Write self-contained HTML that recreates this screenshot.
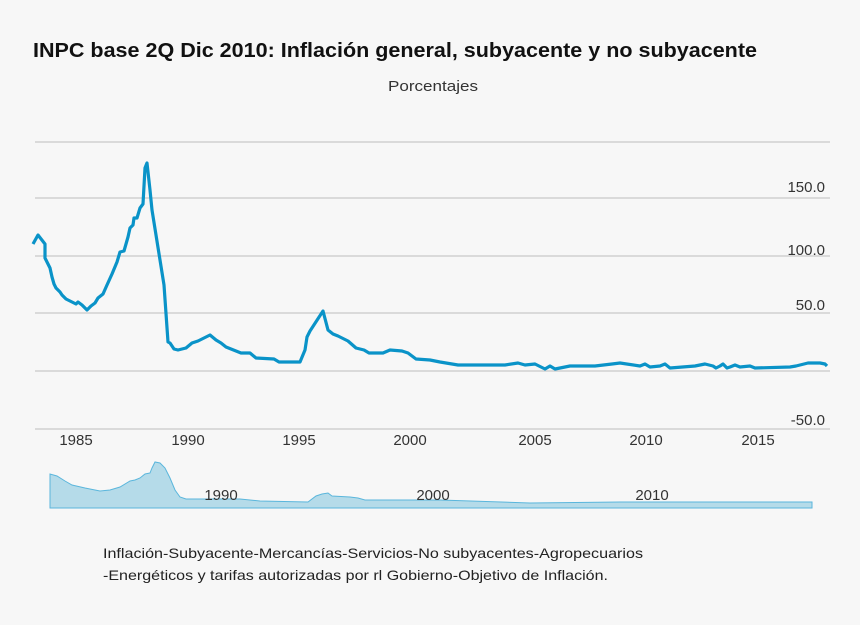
<!DOCTYPE html>
<html><head><meta charset="utf-8"><style>
body{margin:0;background:#f7f7f7;width:860px;height:625px;overflow:hidden;font-family:"Liberation Sans",sans-serif;}
</style></head><body>
<svg width="860" height="625" xmlns="http://www.w3.org/2000/svg" style="position:absolute;left:0;top:0">
<rect width="860" height="625" fill="#f7f7f7"/>
<text x="33" y="57" font-size="20" font-weight="bold" fill="#111" textLength="724" lengthAdjust="spacingAndGlyphs">INPC base 2Q Dic 2010: Inflación general, subyacente y no subyacente</text>
<text x="388" y="91" font-size="15" fill="#333" textLength="90" lengthAdjust="spacingAndGlyphs">Porcentajes</text>
<g stroke="#c8c8c8" stroke-width="1.3">
<line x1="35" x2="830" y1="142" y2="142"/><line x1="35" x2="830" y1="198" y2="198"/>
<line x1="35" x2="830" y1="256" y2="256"/><line x1="35" x2="830" y1="313" y2="313"/>
<line x1="35" x2="830" y1="371" y2="371"/><line x1="35" x2="830" y1="429" y2="429"/>
</g>
<g font-size="15" fill="#333" text-anchor="end">
<text x="825" y="192">150.0</text><text x="825" y="255">100.0</text>
<text x="825" y="310">50.0</text><text x="825" y="425">-50.0</text>
</g>
<g font-size="15" fill="#333" text-anchor="middle">
<text x="76" y="445">1985</text><text x="188" y="445">1990</text><text x="299" y="445">1995</text>
<text x="410" y="445">2000</text><text x="535" y="445">2005</text><text x="646" y="445">2010</text><text x="758" y="445">2015</text>
</g>
<polyline fill="none" stroke="#0a93c8" stroke-width="3.2" stroke-linejoin="round" points="33,244 38,235 45,244 45,258 50,268 52,277 54,284 56,288 60,292 62,295 66,299 70,301 72,302 76,304 78,302 82,305 87,310 91,306 95,303 98,298 103,294 107,285 112,274 117,262 120,252 124,251 128,237 130,228 133,225 134,218 137,218 140,208 143,204 145,168 147,163 150,190 152,210 160,260 164,285 168,342 170,343 174,349 178,350 186,348 192,343 198,341 206,337 210,335 216,340 221,343 226,347 236,351 241,353 250,353 256,358 274,359 279,362 300,362 305,350 307,337 310,331 323,311 328,330 333,334 338,336 348,341 356,348 364,350 369,353 383,353 390,350 402,351 408,353 416,359 430,360 440,362 458,365 505,365 518,363 525,365 535,364 545,369 550,366 555,369 565,367 570,366 595,366 612,364 620,363 640,366 645,364 650,367 660,366 665,364 670,368 695,366 700,365 705,364 713,366 716,368 720,366 723,364 727,368 730,367 735,365 740,367 750,366 755,368 790,367 796,366 808,363 820,363 825,364 827,366"/>
<polygon fill="#b5dbe9" stroke="#5ab6dc" stroke-width="1" points="50,508 50,474 57,476 65,481 72,485 85,488 100,491 110,490 120,487 130,481 135,480 140,478 145,474 150,473 152,468 155,462 160,463 165,468 170,478 175,490 180,497 186,499 240,499 260,501 308,502 316,496 322,494 328,493 332,496 350,497 358,498 365,500 400,500 440,500 530,503 620,502 812,502 812,508"/>
<g font-size="15" fill="#333" text-anchor="middle">
<text x="221" y="500">1990</text><text x="433" y="500">2000</text><text x="652" y="500">2010</text>
</g>
<text x="103" y="558" font-size="14" fill="#222" textLength="540" lengthAdjust="spacingAndGlyphs">Inflación-Subyacente-Mercancías-Servicios-No subyacentes-Agropecuarios</text>
<text x="103" y="580" font-size="14" fill="#222" textLength="505" lengthAdjust="spacingAndGlyphs">-Energéticos y tarifas autorizadas por rl Gobierno-Objetivo de Inflación.</text>
</svg>
</body></html>
